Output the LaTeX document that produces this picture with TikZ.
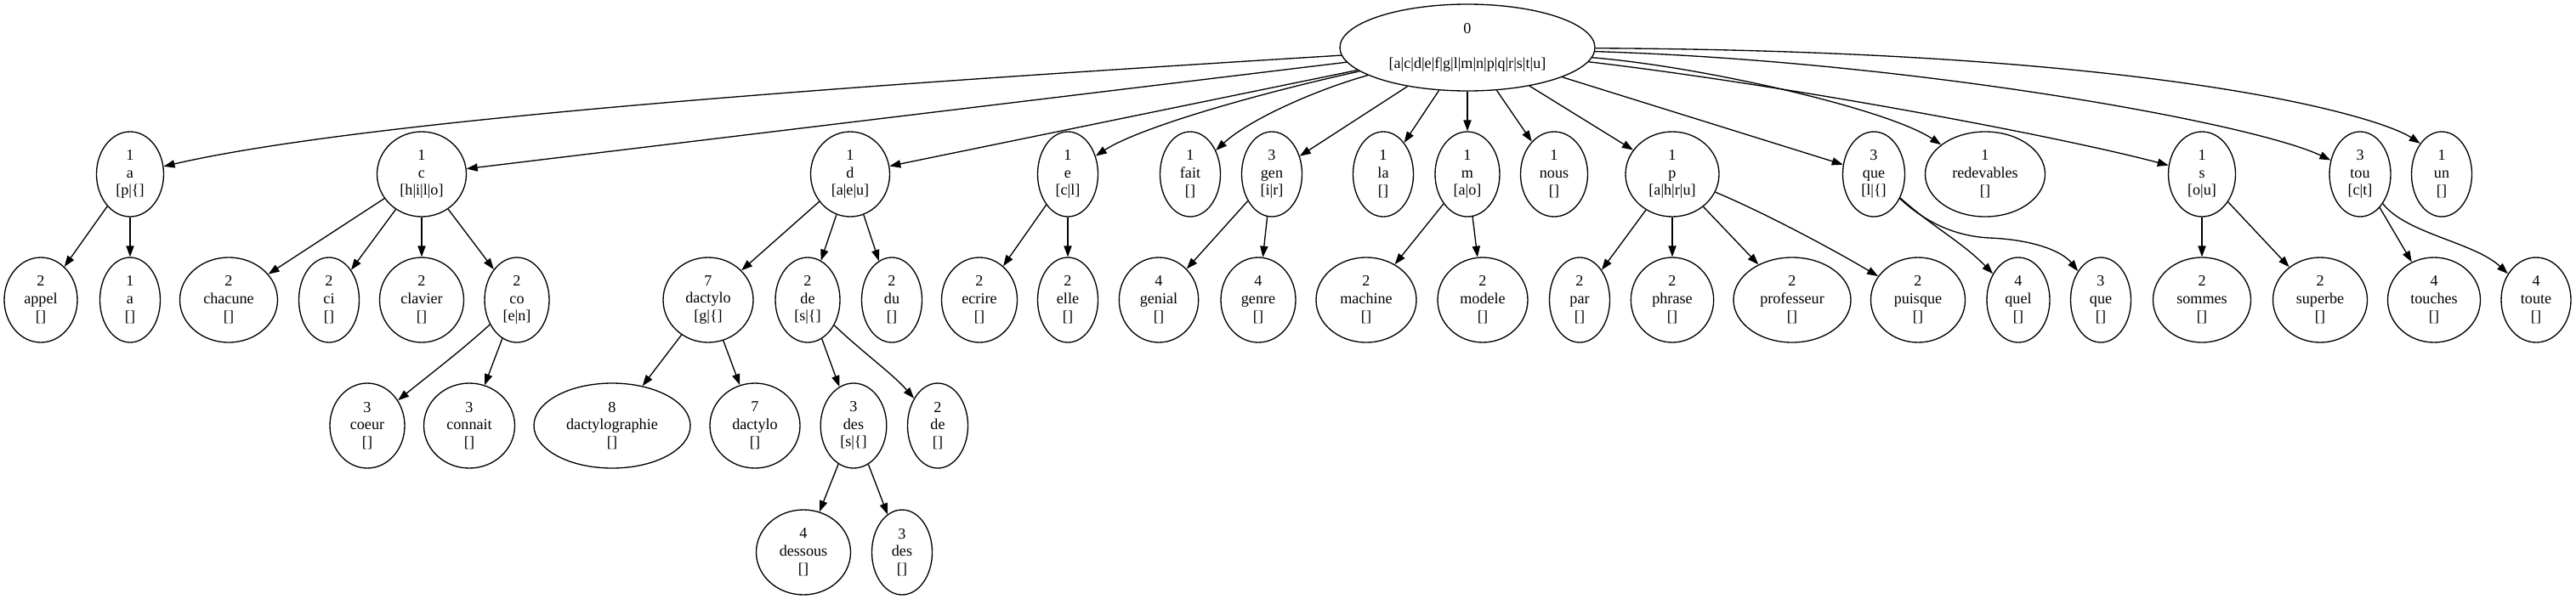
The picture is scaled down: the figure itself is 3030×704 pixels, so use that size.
\documentclass[tikz,border=0pt]{standalone}
\usepackage{fontspec}
\setmainfont{Liberation Serif}
\usetikzlibrary{shapes.geometric,arrows.meta}
\newcommand\lbl[3]{#1\\#2\\{}[#3]}
\begin{document}
\begin{tikzpicture}[x=0.75pt,y=-0.75pt,
  tn/.style={draw, ellipse, line width=1pt, inner sep=0pt, minimum height=75pt,
    align=center, font=\fontsize{13.6pt}{15.6pt}\selectfont},
  conn/.style={line width=1pt, -{Triangle[length=9.75pt,width=6.9pt]}}]
\useasboundingbox (0,0) rectangle (3030,704);
% level 0
\node[tn, minimum width=225pt, minimum height=76.5pt] (root) at (1726,56)
  {0\\\mbox{}\\{}[a|c|d|e|f|g|l|m|n|p|q|r|s|t|u]};
% level 1
\node[tn, minimum width=59.25pt] (a1) at (153,205) {\lbl{1}{a}{p|\{}};
\node[tn, minimum width=78.75pt] (c1) at (496,205) {\lbl{1}{c}{h|i|l|o}};
\node[tn, minimum width=69.75pt] (d1) at (1000,205) {\lbl{1}{d}{a|e|u}};
\node[tn, minimum width=53.25pt] (e1) at (1256,205) {\lbl{1}{e}{c|l}};
\node[tn, minimum width=53.25pt] (fait) at (1400,205) {\lbl{1}{fait}{}};
\node[tn, minimum width=53.25pt] (gen) at (1496,205) {\lbl{3}{gen}{i|r}};
\node[tn, minimum width=53.25pt] (la) at (1627,205) {\lbl{1}{la}{}};
\node[tn, minimum width=57pt] (m) at (1726,205) {\lbl{1}{m}{a|o}};
\node[tn, minimum width=59.25pt] (nous) at (1828,205) {\lbl{1}{nous}{}};
\node[tn, minimum width=82.5pt] (p) at (1967,205) {\lbl{1}{p}{a|h|r|u}};
\node[tn, minimum width=54.75pt] (que) at (2204,205) {\lbl{3}{que}{l|\{}};
\node[tn, minimum width=105.75pt] (redevables) at (2335,205) {\lbl{1}{redevables}{}};
\node[tn, minimum width=59.25pt] (s) at (2590,205) {\lbl{1}{s}{o|u}};
\node[tn, minimum width=54pt] (tou) at (2776,205) {\lbl{3}{tou}{c|t}};
\node[tn, minimum width=53.25pt] (un) at (2872,205) {\lbl{1}{un}{}};
% level 2
\node[tn, minimum width=64.5pt] (appel) at (48,353) {\lbl{2}{appel}{}};
\node[tn, minimum width=53.25pt] (a2) at (153,353) {\lbl{1}{a}{}};
\node[tn, minimum width=86.25pt] (chacune) at (269,353) {\lbl{2}{chacune}{}};
\node[tn, minimum width=53.25pt] (ci) at (387,353) {\lbl{2}{ci}{}};
\node[tn, minimum width=74.25pt] (clavier) at (496,353) {\lbl{2}{clavier}{}};
\node[tn, minimum width=57pt] (co) at (608,353) {\lbl{2}{co}{e|n}};
\node[tn, minimum width=79.5pt] (dactylo) at (833,353) {\lbl{7}{dactylo}{g|\{}};
\node[tn, minimum width=57pt] (de) at (950,353) {\lbl{2}{de}{s|\{}};
\node[tn, minimum width=53.25pt] (du) at (1049,353) {\lbl{2}{du}{}};
\node[tn, minimum width=66.75pt] (ecrire) at (1152,353) {\lbl{2}{ecrire}{}};
\node[tn, minimum width=53.25pt] (elle) at (1256,353) {\lbl{2}{elle}{}};
\node[tn, minimum width=70pt] (genial) at (1363,353) {\lbl{4}{genial}{}};
\node[tn, minimum width=66pt] (genre) at (1480,353) {\lbl{4}{genre}{}};
\node[tn, minimum width=88.5pt] (machine) at (1607,353) {\lbl{2}{machine}{}};
\node[tn, minimum width=79.5pt] (modele) at (1744,353) {\lbl{2}{modele}{}};
\node[tn, minimum width=53.25pt] (par) at (1858,353) {\lbl{2}{par}{}};
\node[tn, minimum width=73pt] (phrase) at (1967,353) {\lbl{2}{phrase}{}};
\node[tn, minimum width=103.5pt] (professeur) at (2108,353) {\lbl{2}{professeur}{}};
\node[tn, minimum width=83.25pt] (puisque) at (2256,353) {\lbl{2}{puisque}{}};
\node[tn, minimum width=55.5pt] (quel) at (2374,353) {\lbl{4}{quel}{}};
\node[tn, minimum width=53.25pt] (que3) at (2471,353) {\lbl{3}{que}{}};
\node[tn, minimum width=86.25pt] (sommes) at (2590,353) {\lbl{2}{sommes}{}};
\node[tn, minimum width=83.25pt] (superbe) at (2729,353) {\lbl{2}{superbe}{}};
\node[tn, minimum width=81.75pt] (touches) at (2863,353) {\lbl{4}{touches}{}};
\node[tn, minimum width=61.5pt] (toute) at (2983,353) {\lbl{4}{toute}{}};
% level 3
\node[tn, minimum width=66pt] (coeur) at (432,501) {\lbl{3}{coeur}{}};
\node[tn, minimum width=80.25pt] (connait) at (552,501) {\lbl{3}{connait}{}};
\node[tn, minimum width=138pt] (dactylographie) at (720,501) {\lbl{8}{dactylographie}{}};
\node[tn, minimum width=79.5pt] (dactyloB) at (888,501) {\lbl{7}{dactylo}{}};
\node[tn, minimum width=58.2pt] (des) at (1004,501) {\lbl{3}{des}{s|\{}};
\node[tn, minimum width=53.25pt] (deB) at (1103,501) {\lbl{2}{de}{}};
% level 4
\node[tn, minimum width=83.25pt] (dessous) at (945,650) {\lbl{4}{dessous}{}};
\node[tn, minimum width=53.25pt] (desB) at (1061,650) {\lbl{3}{des}{}};
% edges from root
\draw[conn] (root) .. controls (1076,96) and (442,138) .. (a1);
\draw[conn] (root) -- (c1);
\draw[conn] (root) -- (d1);
\draw[conn] (root) .. controls (1480,110) and (1340,150) .. (e1);
\draw[conn] (root) .. controls (1550,105) and (1470,140) .. (fait);
\draw[conn] (root) -- (gen);
\draw[conn] (root) -- (la);
\draw[conn] (root) -- (m);
\draw[conn] (root) -- (nous);
\draw[conn] (root) -- (p);
\draw[conn] (root) -- (que);
\draw[conn] (root) .. controls (2000,78) and (2220,128) .. (redevables);
\draw[conn] (root) .. controls (2100,100) and (2420,160) .. (s);
\draw[conn] (root) .. controls (2250,72) and (2650,145) .. (tou);
\draw[conn] (root) .. controls (2550,60) and (2800,138) .. (un.125);
% level 1 -> 2
\draw[conn] (a1) -- (appel);
\draw[conn] (a1) -- (a2);
\draw[conn] (c1) -- (chacune);
\draw[conn] (c1) -- (ci);
\draw[conn] (c1) -- (clavier);
\draw[conn] (c1) -- (co);
\draw[conn] (d1) -- (dactylo);
\draw[conn] (d1) -- (de);
\draw[conn] (d1) -- (du);
\draw[conn] (e1) -- (ecrire);
\draw[conn] (e1) -- (elle);
\draw[conn] (gen) -- (genial);
\draw[conn] (gen) -- (genre);
\draw[conn] (m) -- (machine);
\draw[conn] (m) -- (modele);
\draw[conn] (p) -- (par);
\draw[conn] (p) -- (phrase);
\draw[conn] (p) -- (professeur);
\draw[conn] (p) .. controls (2070,248) and (2150,290) .. (puisque);
\draw[conn] (que) .. controls (2273,267) and (2308,285) .. (quel);
\draw[conn] (que) .. controls (2265,262) and (2300,278) .. (2340,280)
  .. controls (2390,282) and (2425,295) .. (que3);
\draw[conn] (s) -- (sommes);
\draw[conn] (s) -- (superbe);
\draw[conn] (tou) -- (touches);
\draw[conn] (tou) .. controls (2830,275) and (2910,285) .. (toute);
% level 2 -> 3
\draw[conn] (co) .. controls (540,415) and (500,445) .. (coeur);
\draw[conn] (co) -- (connait);
\draw[conn] (dactylo) -- (dactylographie);
\draw[conn] (dactylo) -- (dactyloB);
\draw[conn] (de) -- (des);
\draw[conn] (de) .. controls (1015,415) and (1050,440) .. (deB);
% level 3 -> 4
\draw[conn] (des) -- (dessous);
\draw[conn] (des) -- (desB);
\end{tikzpicture}
\end{document}
